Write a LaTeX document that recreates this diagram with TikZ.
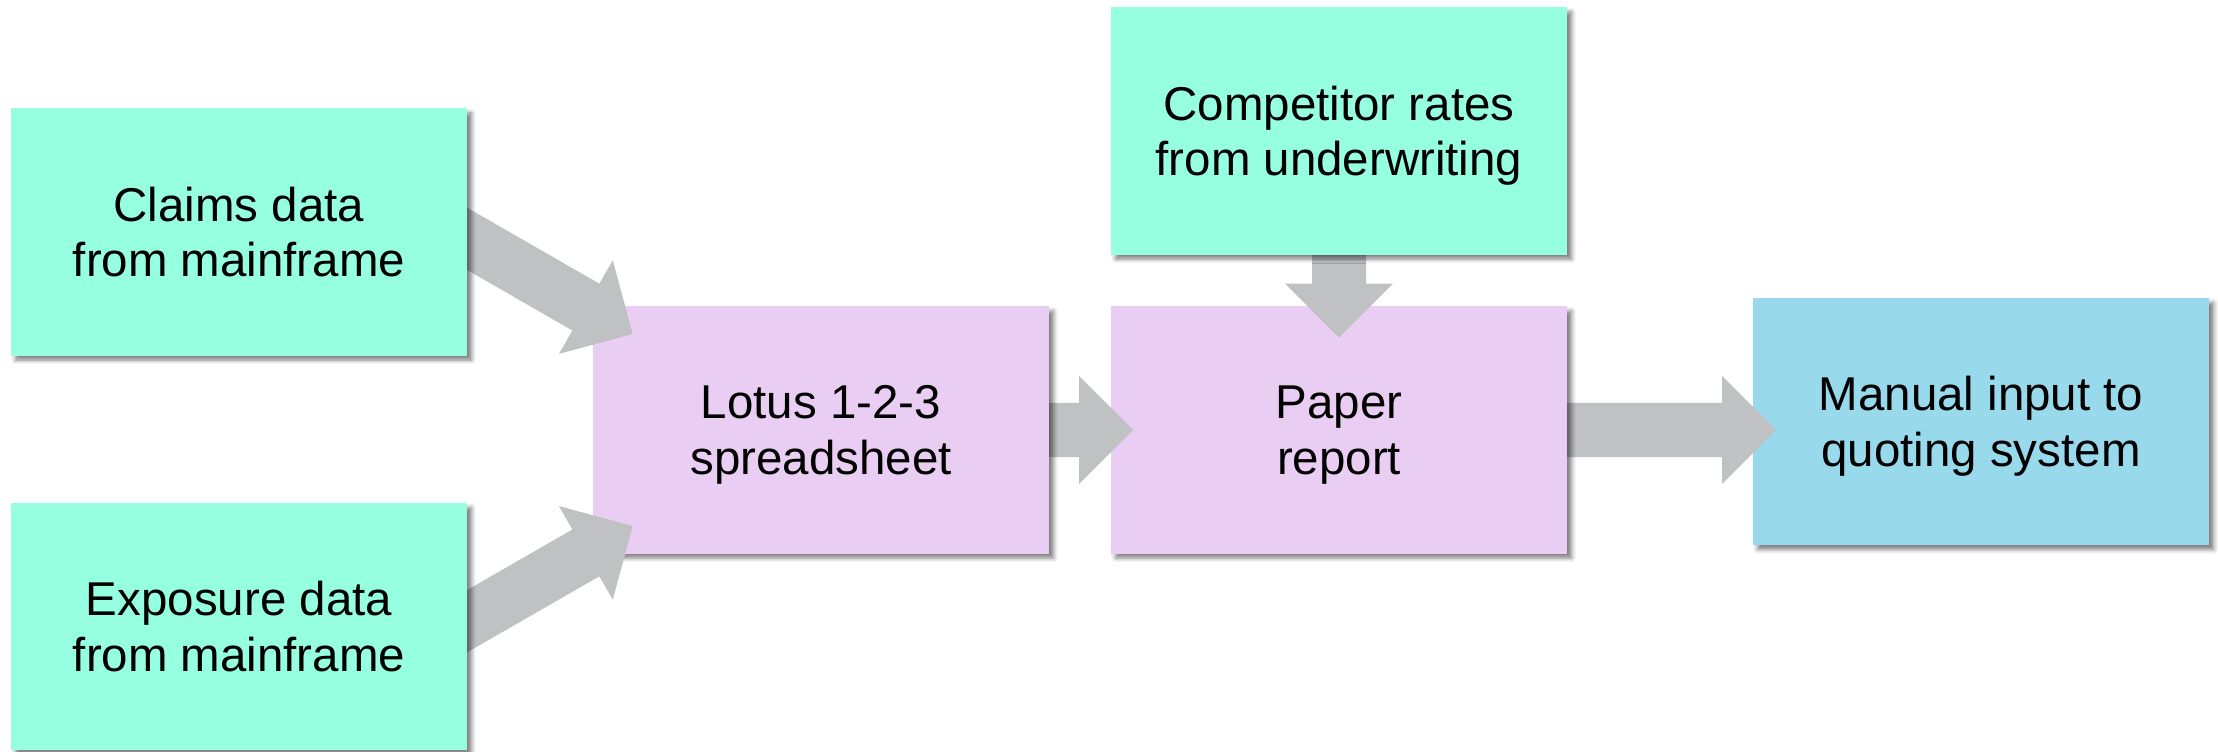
\documentclass[tikz,border=0pt]{standalone}
\usepackage{fontspec}
\setmainfont{Liberation Sans}
\usetikzlibrary{calc,shadows.blur}

\definecolor{srcgreen}{HTML}{96FFDF}
\definecolor{proclilac}{HTML}{EACDF2}
\definecolor{outblue}{HTML}{99D9EC}
\definecolor{flowgray}{HTML}{C0C1C3}

\tikzset{
  box/.style={minimum width=4.56cm, minimum height=2.47cm, inner sep=0pt,
    align=center, text depth=0pt,
    font=\fontsize{13.5pt}{15.8pt}\selectfont,
    blur shadow={shadow xshift=1.3pt, shadow yshift=-1.3pt,
      shadow blur radius=1.2pt, shadow opacity=50}},
  source/.style={box, fill=srcgreen},
  process/.style={box, fill=proclilac},
  result/.style={box, fill=outblue},
  flow/.style={fill=flowgray}
}

% wide block arrow from a tail point to a tip point
% (body 54px wide, head 108px wide and 54px long)
\newcommand\blockarrow[2]{%
  \fill[flow] let \p1=($(#2)-(#1)$), \n1={atan2(\y1,\x1)} in
    ($(#1)+(\n1+90:7.68pt)$)
    -- ($(#2)+(\n1+180:15.36pt)+(\n1+90:7.68pt)$)
    -- ($(#2)+(\n1+180:15.36pt)+(\n1+90:15.36pt)$)
    -- (#2)
    -- ($(#2)+(\n1+180:15.36pt)+(\n1-90:15.36pt)$)
    -- ($(#2)+(\n1+180:15.36pt)+(\n1-90:7.68pt)$)
    -- ($(#1)+(\n1-90:7.68pt)$)
    -- cycle;}

\begin{document}
\begin{tikzpicture}[x=0.01cm, y=-0.01cm]
\useasboundingbox (0,0) rectangle (2218,752);

% box centres
\coordinate (claimsC) at (239,232);
\coordinate (exposureC) at (239,626.5);
\coordinate (lotusC) at (821,430);
\coordinate (ratesC) at (1339,131);
\coordinate (paperC) at (1339,430);
\coordinate (manualC) at (1981,421.5);

% arrow tails, hidden under the box they leave
\coordinate (claimsTail) at ($(claimsC)+(178,-22)$);
\coordinate (exposureTail) at ($(exposureC)+(178,23.5)$);

% drawn from the output back to the inputs, so that every arrow
% lies over the box it enters and under the box it leaves
\node[result] (manual) at (manualC) {Manual input to\\quoting system};
\coordinate (paperTip) at ($(paperC -| manual.west)+(24,0)$);
\blockarrow{paperC}{paperTip}

\node[process] (paper) at (paperC) {Paper\\report};
\coordinate (lotusTip) at ($(paper.west)+(23,0)$);
\coordinate (ratesTip) at ($(paper.north)+(0,32)$);
\blockarrow{lotusC}{lotusTip}
\blockarrow{ratesC}{ratesTip}

\node[process] (lotus) at (lotusC) {Lotus 1-2-3\\spreadsheet};
\node[source] (rates) at (ratesC) {Competitor rates\\from underwriting};
\coordinate (claimsTip) at ($(lotus.west)+(40.5,-96)$);
\coordinate (exposureTip) at ($(lotus.west)+(40.5,96)$);
\blockarrow{claimsTail}{claimsTip}
\blockarrow{exposureTail}{exposureTip}

\node[source] (claims) at (claimsC) {Claims data\\from mainframe};
\node[source] (exposure) at (exposureC) {Exposure data\\from mainframe};
\end{tikzpicture}
\end{document}
